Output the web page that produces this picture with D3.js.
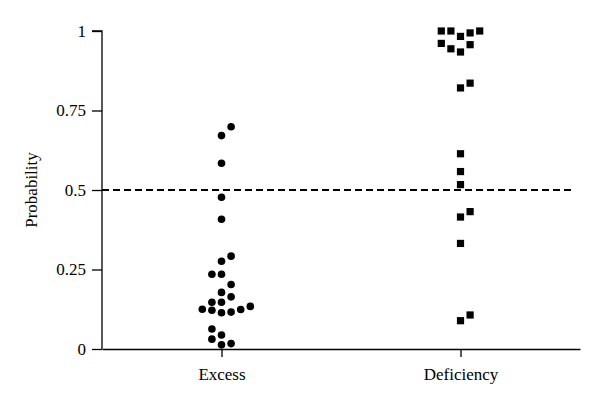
<!DOCTYPE html>
<html><head><meta charset="utf-8">
<script src="https://cdn.jsdelivr.net/npm/d3@7"></script>
<style>body{margin:0;background:#fff}svg{display:block}text{font-family:"Liberation Serif","Times New Roman",serif}</style>
</head><body><div id="chart"></div>
<script>
const categories = ["Excess", "Deficiency"];
const yTicks = [0, 0.25, 0.5, 0.75, 1];
const yTickLabels = ["0", "0.25", "0.5", "0.75", "1"];
const threshold = 0.5;
// Excess: probability values and beeswarm column slot
const excessValues = [0.699, 0.671, 0.584, 0.477, 0.408,
  0.292, 0.276, 0.235, 0.235, 0.203, 0.178, 0.164, 0.147, 0.147,
  0.125, 0.122, 0.114, 0.116, 0.124, 0.134, 0.063, 0.031, 0.044, 0.013, 0.017];
const excessSlots = [1, 0, 0, 0, 0,
  1, 0, -1, 0, 1, 0, 1, -1, 0,
  -2, -1, 0, 1, 2, 3, -1, -1, 0, 0, 1];
const deficiencyValues = [1.0, 1.0, 0.983, 0.994, 1.0, 0.961, 0.944, 0.934, 0.957,
  0.821, 0.836, 0.614, 0.558, 0.517, 0.415, 0.432, 0.332, 0.089, 0.107];
const deficiencySlots = [-2, -1, 0, 1, 2, -2, -1, 0, 1,
  0, 1, 0, 0, 0, 0, 1, 0, 0, 1];

const W = 600, H = 405;
const margin = {left: 102, right: 20, top: 31, bottom: 56};
const svg = d3.select("#chart").append("svg").attr("width", W).attr("height", H);
const x = d3.scalePoint().domain(categories).range([margin.left, W - margin.right]).padding(0.5);
const y = d3.scaleLinear().domain([0, 1]).range([H - margin.bottom, margin.top]);
const slotW = 9.6;

// dashed threshold line
svg.append("line")
  .attr("x1", margin.left).attr("x2", W - margin.right - 5)
  .attr("y1", y(threshold)).attr("y2", y(threshold))
  .attr("stroke", "#000").attr("stroke-width", 1.3).attr("shape-rendering", "crispEdges")
  .attr("stroke-dasharray", "7,4");

// axes
const yAxis = d3.axisLeft(y).tickValues(yTicks).tickFormat((d, i) => yTickLabels[i]).tickSize(10).tickPadding(6);
const gy = svg.append("g").attr("transform", `translate(${margin.left},0)`).call(yAxis);
gy.select(".domain").attr("d", `M${-10},${y(1)}H0V${y(0)}`);
const xAxis = d3.axisBottom(x).tickSize(8).tickPadding(8).tickSizeOuter(0);
const gx = svg.append("g").attr("transform", `translate(0,${y(0)})`).call(xAxis);
[gx, gy].forEach(g => {
  g.selectAll("path,line").attr("stroke", "#000").attr("stroke-width", 1.3);
  g.selectAll("text").attr("font-size", 17).attr("fill", "#000")
    .attr("font-family", '"Liberation Serif", serif');
});
gx.selectAll("text").attr("dy", "0.9em");

svg.append("text").attr("transform", `translate(37,${y(0.5)}) rotate(-90)`)
  .attr("text-anchor", "middle").attr("font-size", 17).text("Probability");

// points
svg.append("g").selectAll("circle").data(excessValues).join("circle")
  .attr("cx", (d, i) => x("Excess") + excessSlots[i] * slotW)
  .attr("cy", d => y(d)).attr("r", 3.8).attr("fill", "#000");
const s = 7.2;
svg.append("g").selectAll("rect").data(deficiencyValues).join("rect")
  .attr("x", (d, i) => x("Deficiency") + deficiencySlots[i] * slotW - s / 2)
  .attr("y", d => y(d) - s / 2).attr("width", s).attr("height", s).attr("fill", "#000");
</script></body></html>
